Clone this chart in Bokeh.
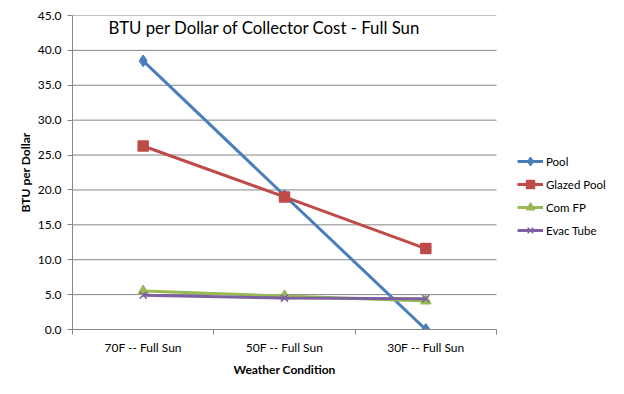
from bokeh.plotting import figure
from bokeh.models import Range1d, FixedTicker, NumeralTickFormatter, Legend, LegendItem, Label, Title
from bokeh.embed import file_html
from bokeh.resources import INLINE

categories = ["70F -- Full Sun", "50F -- Full Sun", "30F -- Full Sun"]
pool = [38.5, 19.2, 0.0]
glazed_pool = [26.3, 19.0, 11.6]
com_fp = [5.5, 4.8, 4.1]
evac_tube = [4.9, 4.5, 4.4]
y_ticks = [0, 5, 10, 15, 20, 25, 30, 35, 40, 45]
title_text = "BTU per Dollar of Collector Cost - Full Sun"
x_title = "Weather Condition"
y_title = "BTU per Dollar"

FONT = "Lato"
GRID = "#868686"

n = len(categories)
xs = [i + 0.5 for i in range(n)]

# plot area (data part) spans 424 px; the frame continues to the right edge to host the legend
W, H = 608, 378
LEFT, TOP, BOTTOM = 72, 15, 48
data_px = 424
x_max = n * (W - LEFT) / data_px

p = figure(width=W, height=H, x_range=Range1d(0, x_max), y_range=Range1d(0, 45),
           output_backend="svg", toolbar_location=None,
           min_border_left=LEFT, min_border_right=0, min_border_top=TOP, min_border_bottom=BOTTOM)
p.outline_line_color = None
p.background_fill_color = "white"
p.border_fill_color = "white"

# horizontal gridlines over the data part only
p.xgrid.grid_line_color = None
p.ygrid.grid_line_color = None
p.segment(x0=[0] * len(y_ticks), x1=[n] * len(y_ticks), y0=y_ticks, y1=y_ticks,
          line_color=GRID, line_width=1)

# axes
p.xaxis.bounds = (0, n)
p.xaxis.ticker = FixedTicker(ticks=xs, minor_ticks=list(range(n + 1)))
p.xaxis.major_label_overrides = {x: c for x, c in zip(xs, categories)}
p.xaxis.major_tick_line_color = None
p.xaxis.major_tick_out = 0
p.xaxis.major_tick_in = 0
p.xaxis.minor_tick_out = 5
p.xaxis.minor_tick_in = 0
p.xaxis.minor_tick_line_color = GRID
p.xaxis.axis_line_color = GRID
p.xaxis.major_label_standoff = 5

p.yaxis.ticker = FixedTicker(ticks=y_ticks, minor_ticks=[])
p.yaxis.formatter = NumeralTickFormatter(format="0.0")
p.yaxis.major_tick_out = 5
p.yaxis.major_tick_in = 0
p.yaxis.major_tick_line_color = GRID
p.yaxis.axis_line_color = GRID
p.yaxis.major_label_standoff = 6
p.yaxis.axis_label = y_title
p.yaxis.axis_label_standoff = 2

for ax in (p.xaxis[0], p.yaxis[0]):
    ax.major_label_text_font = FONT
    ax.major_label_text_font_size = "12px"
    ax.major_label_text_color = "black"
    ax.axis_label_text_font = FONT
    ax.axis_label_text_font_size = "12px"
    ax.axis_label_text_font_style = "bold"
    ax.axis_label_text_color = "black"

# x-axis title, centred under the data part of the frame
p.add_layout(Title(text=x_title, align="left", offset=161, standoff=4,
                   text_font=FONT, text_font_size="12px", text_font_style="bold",
                   text_color="black"), "below")

series = [
    ("Pool", pool, "#4A7EBB", "diamond", 11),
    ("Glazed Pool", glazed_pool, "#BE4B48", "square", 10),
    ("Com FP", com_fp, "#98B954", "triangle", 10),
    ("Evac Tube", evac_tube, "#7D60A0", "x", 10),
]
items = []
for name, vals, col, marker, size in series:
    ln = p.line(xs, vals, line_color=col, line_width=3)
    sc = p.scatter(xs, vals, marker=marker, size=size, fill_color=col, line_color=col, line_width=1.5)
    items.append(LegendItem(label=name, renderers=[ln, sc]))

legend = Legend(items=items, location=(445, 89))
legend.border_line_color = None
legend.background_fill_alpha = 0
legend.padding = 0
legend.margin = 0
legend.spacing = 3
legend.glyph_width = 26
legend.glyph_height = 20
legend.label_height = 20
legend.label_standoff = 3
legend.label_text_font = FONT
legend.label_text_font_size = "11.5px"
legend.label_text_color = "black"
p.add_layout(legend)

p.add_layout(Label(x=0.255, y=43.3, text=title_text, text_baseline="middle",
                   text_font=FONT, text_font_size="16.8px", text_color="black"))

open("out.html", "w").write(file_html(p, INLINE))
